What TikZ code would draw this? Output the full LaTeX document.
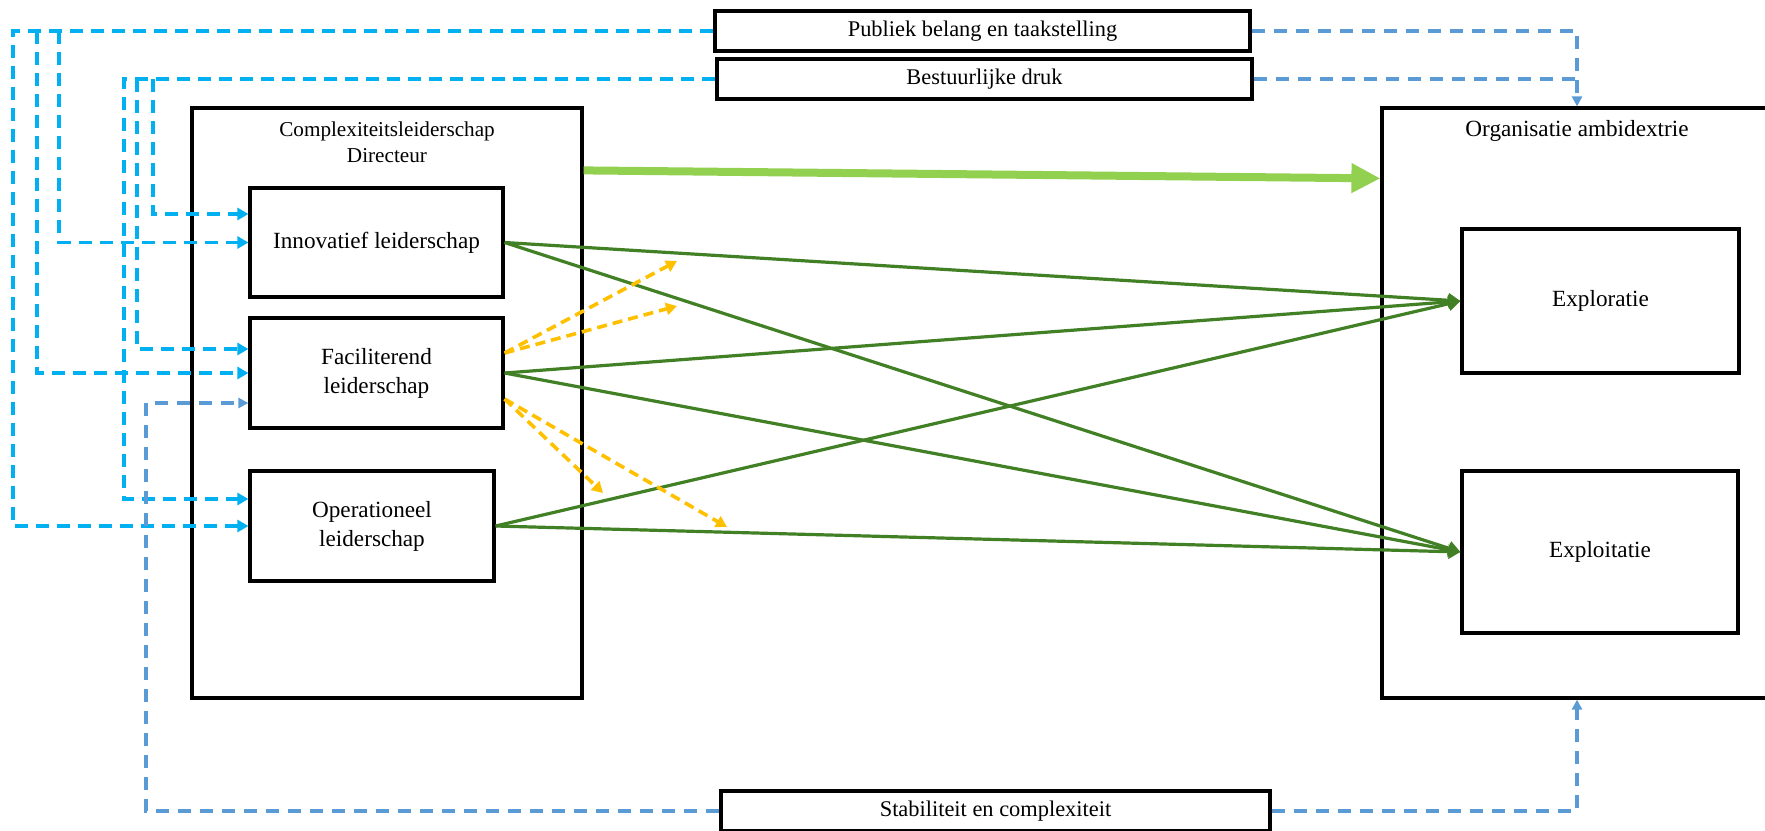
\documentclass[tikz,border=0pt]{standalone}
\usepackage{fontspec}
\setmainfont{Liberation Serif}
\usetikzlibrary{arrows.meta,calc}
\definecolor{cyanl}{HTML}{00B0F0}
\definecolor{bluel}{HTML}{5B9BD5}
\definecolor{dgreen}{RGB}{66,128,38}
\definecolor{lgreen}{HTML}{92D050}
\definecolor{yell}{HTML}{FFC000}
\begin{document}
\begin{tikzpicture}[x=0.5pt,y=-0.5pt,
  boxn/.style={draw, line width=1.6pt, inner sep=0pt, align=center, font=\fontsize{11.6}{14.5}\selectfont},
  smallbox/.style={boxn, font=\fontsize{11.2}{13}\selectfont},
  cyd/.style={draw=cyanl, line width=1.8pt, dash pattern=on 6.5pt off 4pt, -{Triangle[length=5.5pt,width=6pt]}},
  bld/.style={draw=bluel, line width=1.7pt, dash pattern=on 6.5pt off 4.5pt, -{Triangle[length=5pt,width=5pt]}},
  gr/.style={draw=dgreen, line width=1.6pt, -{Triangle[length=6pt,width=7pt]}},
  yd/.style={draw=yell, line width=1.8pt, dash pattern=on 5pt off 3pt, -{Triangle[length=5.5pt,width=6pt]}}]
\useasboundingbox (0,0) rectangle (1765,830);
\clip (0,0) rectangle (1765,830);

% boxes
\node[boxn, minimum width=195pt, minimum height=295pt] (comp) at (387,403) {};
\node[align=center, font=\fontsize{10.6}{13}\selectfont] (comptitle) at (387,142) {Complexiteitsleiderschap\\Directeur};
\node[boxn, minimum width=126.5pt, minimum height=54.5pt] (inno) at (376.5,242.5) {Innovatief leiderschap};
\node[boxn, minimum width=126.5pt, minimum height=55pt] (fac) at (376.5,373) {Faciliterend\\leiderschap};
\node[boxn, minimum width=122pt, minimum height=55pt] (oper) at (372,526) {Operationeel\\leiderschap};

\node[boxn, minimum width=195pt, minimum height=295pt] (org) at (1577,403) {};
\node[font=\fontsize{11.6}{14}\selectfont] (orgtitle) at (1577,131) {Organisatie ambidextrie};
\node[boxn, minimum width=138.5pt, minimum height=72pt] (explor) at (1600.5,301) {Exploratie};
\node[boxn, minimum width=138pt, minimum height=81pt] (exploit) at (1600,552) {Exploitatie};

\node[smallbox, minimum width=267.5pt, minimum height=20pt] (pub) at (982.5,31) {Publiek belang en taakstelling};
\node[smallbox, minimum width=267.5pt, minimum height=20pt] (best) at (984.5,79) {Bestuurlijke druk};
\node[smallbox, minimum width=274.5pt, minimum height=20pt] (stab) at (995.5,811) {Stabiliteit en complexiteit};

% cyan connectors from Publiek belang
\coordinate (c1) at (13,31);
\coordinate (c2) at (37,31);
\coordinate (c3) at (59,31);
\draw[cyd] (pub.west) -- (c1) |- (oper.west);
\draw[cyd] (c2) |- (fac.west);
\draw[cyd] (c3) |- (inno.west);

% cyan connectors from Bestuurlijke druk
\coordinate (b1) at (124,79);
\coordinate (b2) at (137,79);
\coordinate (b3) at (153,79);
\draw[cyd] (best.west) -- (b1) |- ([yshift=13.5pt]oper.west);
\draw[cyd] (b2) |- ([yshift=12pt]fac.west);
\draw[cyd] (b3) |- ([yshift=14.25pt]inno.west);

% blue connectors
\draw[bld] (pub.east) -| (org.north);
\draw[bld, -] (best.east) -- (best.east -| org.north);
\coordinate (s1) at (146,811);
\draw[bld] (stab.west) -- (s1) |- ([yshift=-15pt]fac.west);
\draw[bld] (stab.east) -| (org.south);

% thick green arrow
\draw[draw=lgreen, line width=4pt, -{Triangle[length=14.5pt,width=14pt]}]
  ($(comp.north east)+(0,64)$) -- ($(org.north west)+(0,72)$);

% green connectors
\draw[gr] (inno.east) -- (explor.west);
\draw[gr] (inno.east) -- (exploit.west);
\draw[gr] (fac.east) -- (explor.west);
\draw[gr] (fac.east) -- (exploit.west);
\draw[gr] (oper.east) -- (explor.west);
\draw[gr] (oper.east) -- (exploit.west);

% yellow dashed arrows
\coordinate (y1) at (677,261);
\coordinate (y2) at (677,306);
\coordinate (y3) at (603,493);
\coordinate (y4) at (727,527);
\draw[yd] ([yshift=10pt]fac.east) -- (y1);
\draw[yd] ([yshift=10pt]fac.east) -- (y2);
\draw[yd] ([yshift=-13pt]fac.east) -- (y3);
\draw[yd] ([yshift=-13pt]fac.east) -- (y4);
\end{tikzpicture}
\end{document}
